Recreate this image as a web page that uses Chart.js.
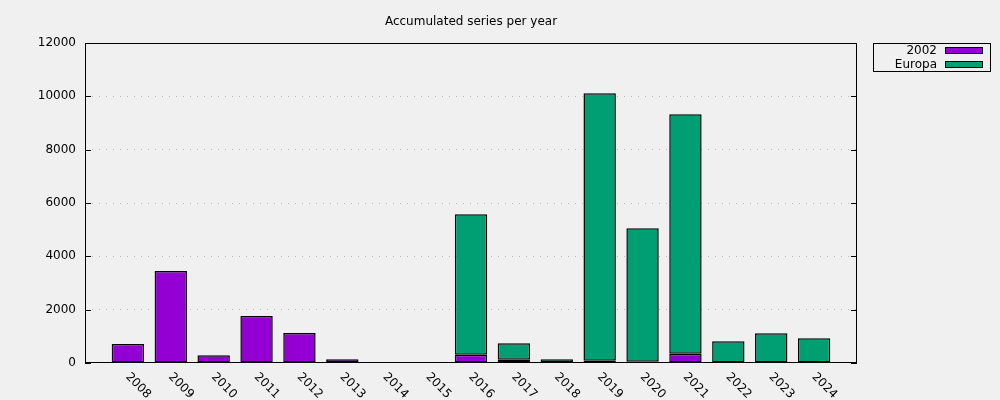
<!DOCTYPE html>
<html>
<head>
<meta charset="utf-8">
<script src="https://cdn.jsdelivr.net/npm/chart.js@4/dist/chart.umd.min.js"></script>
<style>
  html, body { margin:0; padding:0; background:#f0f0f0; }
  #wrap { width:1000px; height:400px; position:relative; }
</style>
</head>
<body>
<div id="wrap"><canvas id="chart"></canvas></div>
<script>
const YEARS = [2008,2009,2010,2011,2012,2013,2014,2015,2016,2017,2018,2019,2020,2021,2022,2023,2024];
const SERIES_2002 = [710,3450,290,1760,1125,140,30,0,310,125,0,88,50,350,0,0,0];
const SERIES_EUROPA = [0,0,0,0,0,0,0,0,5265,612,137,10024,5000,8975,812,1112,925];
const Y_TICKS = [0,2000,4000,6000,8000,10000,12000];
const TITLE = 'Accumulated series per year';

const PURPLE = '#9400d3';
const GREEN = '#009e73';
const FONT = "'DejaVu Sans', sans-serif";

const gnuplotLook = {
  id: 'gnuplotLook',
  afterDraw(chart){
    const {ctx, chartArea:a, scales:{x, y}} = chart;
    ctx.save();
    // border
    ctx.strokeStyle = '#000';
    ctx.lineWidth = 1;
    ctx.strokeRect(a.left + 0.5, a.top + 0.5, a.right - a.left - 1, a.bottom - a.top - 1);
    // inward y ticks, both sides
    Y_TICKS.forEach(v => {
      const py = Math.round(y.getPixelForValue(v)) + 0.5;
      ctx.beginPath();
      ctx.moveTo(a.left, py); ctx.lineTo(a.left + 6, py);
      ctx.moveTo(a.right, py); ctx.lineTo(a.right - 6, py);
      ctx.stroke();
    });
    // title
    ctx.fillStyle = '#000';
    ctx.font = '12px ' + FONT;
    ctx.textAlign = 'center';
    ctx.textBaseline = 'middle';
    ctx.fillText(TITLE, (a.left + a.right) / 2, 22);
    // rotated year labels
    ctx.textAlign = 'left';
    YEARS.forEach(yr => {
      const px = x.getPixelForValue(yr);
      ctx.save();
      ctx.translate(px - 0.5, a.bottom + 12);
      ctx.rotate(Math.PI / 4);
      ctx.fillText(String(yr), 0, 0);
      ctx.restore();
    });
    // legend
    const lx = 873, ly = 43, lw = 117, lh = 28;
    ctx.strokeRect(lx + 0.5, ly + 0.5, lw, lh);
    const entries = [['2002', PURPLE], ['Europa', GREEN]];
    entries.forEach((e, i) => {
      const cy = ly + 8 + i * 14;
      ctx.textAlign = 'right';
      ctx.fillStyle = '#000';
      ctx.fillText(e[0], 937, cy);
      ctx.fillStyle = e[1];
      ctx.fillRect(945, cy - 3, 37, 6);
      ctx.strokeRect(945.5, cy - 3.5, 37, 6);
    });
    ctx.restore();
  }
};

new Chart(document.getElementById('chart'), {
  type: 'bar',
  data: {
    datasets: [
      {
        label: '2002',
        data: YEARS.map((yr, i) => ({x: yr, y: SERIES_2002[i]})),
        backgroundColor: PURPLE,
        borderColor: '#000',
        borderWidth: 1.5,
        borderSkipped: false,
        barPercentage: 0.755,
        categoryPercentage: 1
      },
      {
        label: 'Europa',
        data: YEARS.map((yr, i) => ({x: yr, y: SERIES_EUROPA[i]})),
        backgroundColor: GREEN,
        borderColor: '#000',
        borderWidth: 1.5,
        borderSkipped: false,
        barPercentage: 0.755,
        categoryPercentage: 1
      }
    ]
  },
  options: {
    responsive: true,
    maintainAspectRatio: false,
    animation: false,
    layout: { padding: { top: 43, right: 143, left: 0, bottom: 0 } },
    plugins: { legend: { display: false }, tooltip: { enabled: false }, title: { display: false } },
    scales: {
      x: {
        type: 'linear',
        offset: false,
        min: YEARS[0] - 1,
        max: YEARS[YEARS.length - 1] + 1,
        stacked: true,
        grid: { display: false, drawTicks: false },
        border: { display: false },
        ticks: { display: false, stepSize: 1 },
        afterFit: s => { s.height = 37; }
      },
      y: {
        stacked: true,
        min: 0,
        max: 12000,
        afterBuildTicks: s => { s.ticks = Y_TICKS.map(v => ({value: v})); },
        afterFit: s => { s.width = 85; },
        border: { display: false, dash: [1, 6] },
        grid: {
          drawTicks: false,
          color: c => (c.tick.value === 0 || c.tick.value === 12000) ? 'rgba(0,0,0,0)' : '#b8b8b8',
          lineWidth: 1
        },
        ticks: { color: '#000', padding: 9, font: { family: FONT, size: 12 }, callback: v => String(v) }
      }
    }
  },
  plugins: [gnuplotLook]
});
</script>
</body>
</html>
